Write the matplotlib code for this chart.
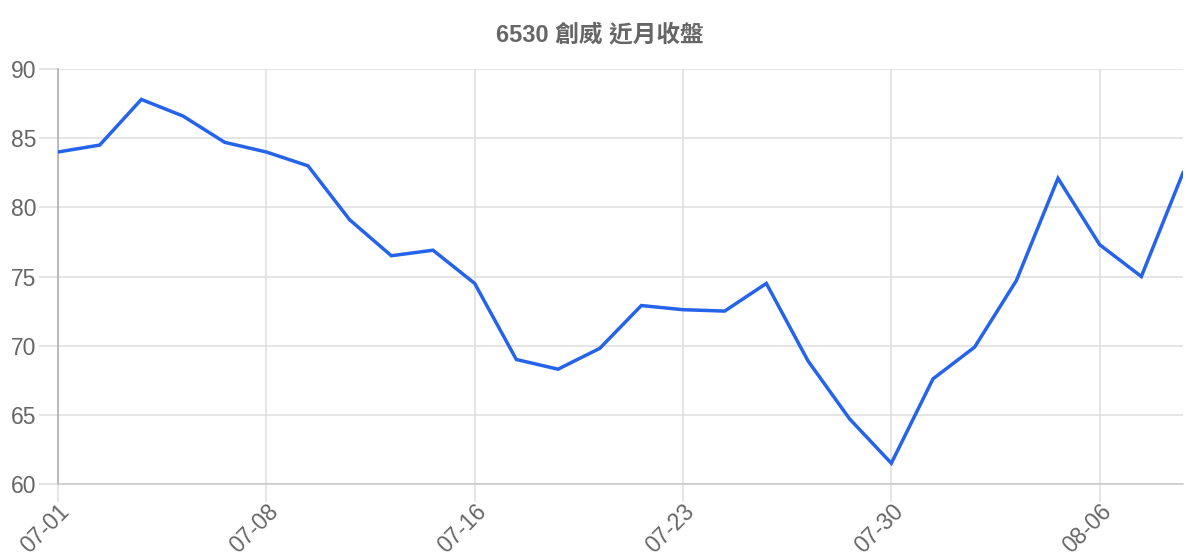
import numpy as np
import matplotlib
matplotlib.use("Agg")
import matplotlib.pyplot as plt

# ---------------- DATA ---------------- #

DATES = [
    "07-01", "07-02", "07-03", "07-04", "07-07",
    "07-08", "07-09", "07-10", "07-11", "07-14",
    "07-16", "07-17", "07-18", "07-21", "07-22",
    "07-23", "07-24", "07-25", "07-28", "07-29",
    "07-30", "07-31", "08-01", "08-04", "08-05",
    "08-06", "08-07", "08-08",
]

CLOSE = [
    84.0, 84.5, 87.8, 86.6, 84.7,
    84.0, 83.0, 79.1, 76.5, 76.9,
    74.5, 69.0, 68.3, 69.8, 72.9,
    72.6, 72.5, 74.5, 68.9, 64.7,
    61.5, 67.6, 69.9, 74.7, 82.1,
    77.3, 75.0, 82.5,
]

Y_TICKS = [60, 65, 70, 75, 80, 85, 90]
TITLE = "6530 創威 近月收盤"

# ---------------- STYLE ---------------- #

plt.rcParams["font.family"] = ["Liberation Sans", "Noto Sans CJK TC", "DejaVu Sans"]

LINE_COLOR = "#2563eb"
GRID_COLOR = "#dedede"
TEXT_COLOR = "#666666"

# ---------------- PLOT ---------------- #

fig = plt.figure(figsize=(12, 5.6), dpi=100)
ax = fig.add_axes([58 / 1200, 1 - 484 / 560, (1183 - 58) / 1200, (484 - 69) / 560])

X = np.arange(len(DATES))
ax.plot(X, CLOSE, color=LINE_COLOR, linewidth=2.5, solid_joinstyle="miter", zorder=3)

ax.set_xlim(0, len(DATES) - 1)
ax.set_ylim(Y_TICKS[0], Y_TICKS[-1])

tick_idx = list(range(0, len(DATES), 5))
ax.set_xticks(tick_idx)
ax.set_xticklabels([DATES[i] for i in tick_idx], rotation=45, ha="right", va="top",
                   rotation_mode="anchor")
ax.set_yticks(Y_TICKS)

ax.grid(True, color=GRID_COLOR, linewidth=1.1)
ax.set_axisbelow(True)

ax.tick_params(axis="both", colors=GRID_COLOR, labelcolor=TEXT_COLOR,
               labelsize=16.5, length=14, width=1.1)
ax.tick_params(axis="y", pad=1.5)
ax.tick_params(axis="x", length=13, pad=-1.5)

for side in ["top", "right"]:
    ax.spines[side].set_visible(False)
ax.spines["left"].set_color("#aaaaaa")
ax.spines["bottom"].set_color("#c8c8c8")
ax.spines["left"].set_linewidth(1.1)
ax.spines["bottom"].set_linewidth(1.1)

fig.text(0.5, 1 - 35 / 560, TITLE, ha="center", va="center",
         fontsize=17, fontweight="bold", color=TEXT_COLOR)

fig.savefig("out.png", dpi=100)
plt.close(fig)
